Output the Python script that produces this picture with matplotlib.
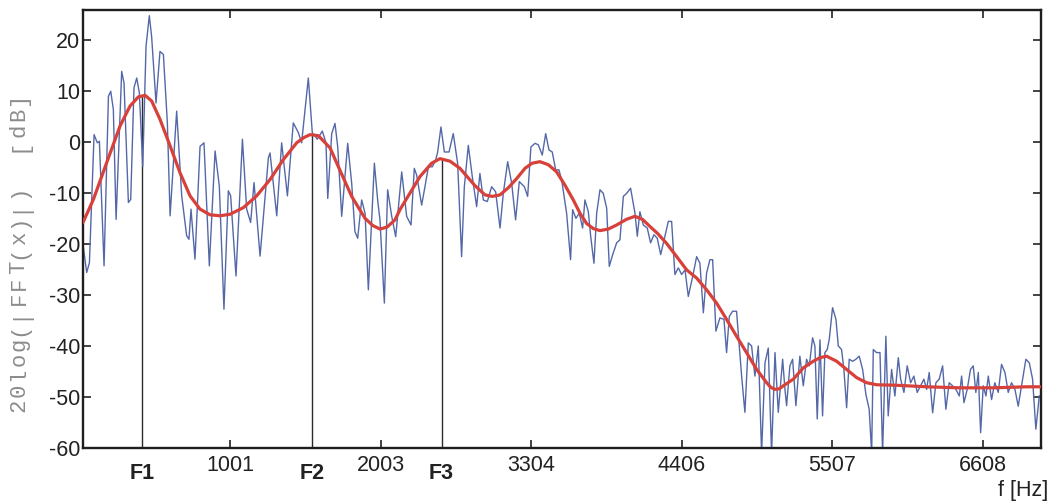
import numpy as np
import matplotlib.pyplot as plt

# spectrum (thin blue line)
spec_hz = [24, 53, 73, 107, 131, 146, 180, 212, 229, 248, 268, 309, 326, 358, 375, 399, 419, 438,
           463, 487, 511, 528, 560, 589, 614, 643, 663, 711, 748, 784, 801, 816, 845, 882, 911, 950,
           992, 1023, 1057, 1089, 1106, 1145, 1192, 1223, 1252, 1277, 1321, 1382, 1394, 1443, 1479,
           1521, 1564, 1601, 1625, 1650, 1674, 1703, 1740, 1776, 1803, 1816,
           1845, 1869, 1889, 1918, 1962, 1991, 2015, 2035, 2064, 2089, 2113, 2157, 2181, 2198, 2230,
           2254, 2284, 2313, 2357, 2393, 2425, 2449, 2466, 2503, 2527, 2552, 2581, 2605, 2620, 2644,
           2669, 2703, 2734, 2766, 2795, 2815, 2844, 2873, 2905, 2929, 2954, 2983, 3015, 3044, 3076,
           3100, 3132, 3161, 3190, 3217, 3254, 3278, 3302, 3332, 3356, 3385, 3410, 3434, 3458, 3483,
           3507, 3527, 3563, 3592,
           3607, 3631, 3656, 3680, 3697, 3722, 3739, 3763, 3783, 3807, 3831, 3856, 3875, 3900, 3929,
           3953, 3978, 4002, 4031, 4063, 4080, 4099, 4124, 4153, 4177, 4202, 4226, 4251, 4282, 4307,
           4331, 4355, 4380, 4404, 4429, 4453, 4485, 4514, 4538, 4563, 4587, 4611, 4631, 4655, 4684,
           4714, 4733, 4753, 4777, 4806, 4826, 4843, 4867, 4892, 4916, 4940, 4965, 4989, 5014, 5038,
           5062, 5087, 5111, 5143, 5160, 5172, 5196, 5216, 5240, 5269, 5294, 5318, 5338, 5362, 5379,
           5396, 5416,
           5435, 5452, 5469, 5484, 5508, 5533, 5550, 5574, 5591, 5611, 5630, 5655, 5679, 5703, 5728,
           5752, 5776, 5794, 5806, 5830, 5855, 5874, 5898, 5915, 5940, 5964, 5989, 6006, 6030, 6054,
           6079, 6103, 6127, 6152, 6176, 6196, 6215, 6240, 6264, 6288, 6313, 6337, 6361, 6386, 6410,
           6435, 6452, 6469, 6493, 6517, 6537, 6556, 6574, 6591, 6610, 6630, 6647, 6671, 6695, 6720,
           6744, 6769, 6793, 6817, 6842, 6866, 6890, 6922, 6947, 6971, 6995, 7020]
spec_db = [-19.7, -25.6, -23.7, 1.4, -0.2, 0.1, -24.3, 8.9, 9.9, 6.3, -15.2, 13.8, 11.5, -11.9, -11.3,
           10.6, 12.5, 9.6, -4.8, 18.7, 24.7, 20.6, 7.6, 17.7, 17.1, 3.7, -14.5, 6.0, -10.6, -18.4,
           -19.1, -13.2, -23.0, -0.9, -0.2, -24.3, -1.8, -8.7, -32.8, -9.6, -10.6, -26.3, 0.5, -13.2,
           -15.8, -8.0, -22.4, -3.1, -2.2, -14.5, -0.2, -10.6, 3.7, 1.8, -0.2, 6.3, 12.5, 1.8, 0.5,
           2.1, -0.2, -11.1,
           1.6, 3.6, -1.0, -14.6, -0.3, -8.1, -17.6, -18.9, -11.4, -14.0, -29.0, -4.2, -11.4, -15.3,
           -31.6, -9.4, -14.6, -18.6, -5.9, -14.6, -16.3, -5.2, -6.5, -12.4, -8.8, -4.9, -4.9, -3.6,
           -2.0, 2.9, -2.0, -2.0, 1.6, -4.2, -22.5, -8.8, -0.7, -6.8, -12.7, -6.2, -11.4, -11.7, -8.8,
           -9.8, -16.9, -10.1, -3.9, -8.1, -15.3, -7.8, -8.8, -10.7, -1.0, -0.3, -0.6, -2.6, 1.6,
           -1.6, -2.0, -5.5, -5.5, -7.5, -14.0, -23.1,
           -13.3, -15.0, -14.0, -16.9, -11.4, -13.7, -18.5, -23.8, -14.0, -9.4, -10.1, -13.0, -24.4,
           -22.1, -19.8, -19.2, -10.7, -10.1, -9.1, -14.0, -18.5, -13.7, -16.3, -16.9, -19.8, -18.2,
           -18.9, -22.1, -18.5, -15.6, -15.6, -26.0, -24.7, -26.0, -25.1, -30.3, -26.4, -22.5, -23.8,
           -33.5, -25.7, -23.1, -23.1, -37.1, -34.5, -34.8, -41.3, -34.2, -33.2, -33.2, -40.0, -45.9,
           -53.0, -39.4, -40.0, -45.9, -40.0, -61.0, -43.3, -40.4, -61.0, -41.3, -53.0, -42.6, -48.5,
           -51.7, -43.9, -42.6, -51.7, -42.0, -47.8, -42.6, -43.9, -38.4, -40.0, -54.3, -38.8,
           -53.7, -41.3, -40.7, -38.7, -32.5, -34.8, -40.0, -40.7, -44.6, -52.1, -42.6, -43.0, -42.6,
           -42.0, -44.6, -49.5, -52.4, -61.0, -40.7, -41.3, -41.3, -61.0, -38.1, -53.7, -44.6, -49.8,
           -42.3, -46.5, -49.1, -43.9, -47.2, -45.9, -49.1, -47.8, -46.5, -48.5, -45.2, -53.1, -47.2,
           -46.5, -43.9, -52.4, -47.2, -47.8, -48.5, -49.8, -45.9, -51.1, -48.5, -44.6, -43.9, -49.1,
           -45.2, -57.0, -47.8, -49.8, -45.9, -50.5, -47.2, -49.1, -43.6, -45.2, -49.1, -47.2, -48.5,
           -51.8, -47.8, -42.6, -43.3, -46.5, -56.3, -49.8]

# smoothed envelope (red line)
env_hz = [26, 102, 199, 297, 370, 431, 480, 528, 589, 663, 736, 809, 882, 955, 1028, 1101, 1199,
          1296, 1394, 1491, 1589, 1640, 1686, 1747, 1833, 1894, 1991, 2089, 2145, 2198, 2250, 2308,
          2344, 2405, 2491, 2576, 2637, 2710, 2783, 2893, 2966, 3020, 3076, 3137, 3198, 3259, 3310,
          3368, 3430, 3490, 3551, 3612, 3661, 3709, 3758, 3807, 3868, 3929, 4000, 4063, 4118, 4173,
          4230, 4294, 4368, 4441, 4514, 4587, 4660, 4733, 4806, 4879, 4953, 5026, 5056, 5087, 5118,
          5148, 5221, 5294, 5367, 5416, 5464, 5538, 5611, 5684, 5757, 5830, 5976, 6196, 6439, 6683,
          6927, 7032]
env_db = [-15.8, -11.3, -4.1, 3.1, 7.0, 8.8, 9.1, 8.0, 4.4, -0.8, -6.1, -10.6, -13.2, -14.3, -14.5,
          -14.2, -12.9, -10.6, -7.4, -3.5, -0.2, 0.8, 1.4, 1.2, -1.2, -4.9, -10.7, -15.0, -16.4,
          -17.1, -16.7, -15.3, -13.3, -10.6, -6.8, -4.2, -3.3, -3.8, -5.2, -8.6, -10.4, -10.7, -10.4,
          -9.0, -7.2, -5.2, -4.2, -3.9, -4.5, -5.9, -8.5, -11.4, -14.0, -16.0, -17.0, -17.4, -17.1,
          -16.3, -15.2, -14.6, -15.2, -16.6, -18.0, -19.9, -22.5, -25.1, -26.7, -29.0, -31.6, -34.8,
          -38.1, -41.3, -44.6, -47.2, -48.1, -48.5, -48.4, -47.8, -46.5, -44.3, -43.0, -42.3, -42.0,
          -43.0, -44.6, -46.2, -47.2, -47.6, -47.7, -48.0, -48.2, -48.2, -48.0, -48.0]

formant_names = ["F1", "F2", "F3"]
formant_hz = [456, 1701, 2648]
formant_db = [9.1, 1.4, -3.3]

tick_hz = [1101.3, 2202.6, 3303.9, 4405.2, 5506.5, 6607.8]
tick_labels = ["1001", "2003", "3304", "4406", "5507", "6608"]
ytick_vals = [20, 10, 0, -10, -20, -30, -40, -50, -60]

ylabel = "20log(|FFT(x)|)  [dB]"

plt.rcParams["font.family"] = ["Liberation Sans", "DejaVu Sans"]

W, H = 1060, 504
fig = plt.figure(figsize=(W / 100, H / 100), dpi=100)
ax = fig.add_axes([0.0783, 0.111, 0.9037, 0.869])

ax.vlines(formant_hz, -60, formant_db, color="#2b2b2b", lw=1.0, zorder=1)
ax.plot(spec_hz, spec_db, color="#5468a8", lw=1.0, zorder=2)
ax.plot(env_hz, env_db, color="#d8403a", lw=2.3, zorder=3,
        solid_capstyle="round", solid_joinstyle="round")

ax.set_xlim(26, 7032)
ax.set_ylim(-60, 25.8)
ax.set_xticks(tick_hz)
ax.set_xticklabels(tick_labels)
ax.set_yticks(ytick_vals)
ax.set_yticklabels([str(v) for v in ytick_vals])
ax.tick_params(direction="in", length=6, width=1.2, labelsize=15.5, colors="#222222",
               top=True, right=True)
ax.tick_params(axis="x", pad=5)
ax.tick_params(axis="y", pad=2)
for s in ax.spines.values():
    s.set_linewidth(1.7)
    s.set_color("#1e1e1e")

for name, f in zip(formant_names, formant_hz):
    ax.annotate(name, xy=(f, 0), xycoords=("data", "axes fraction"), xytext=(0, -11),
                textcoords="offset points", ha="center", va="top", fontsize=15.5,
                fontweight="bold", color="#222222")

fig.text(0.989, 0.026, "f [Hz]", ha="right", va="center", fontsize=15.5, color="#222222")

# y label: wide-spaced monospace, one character at a time from the bottom up
step = 15.3
y0 = 413 - step / 2
for i, ch in enumerate(ylabel):
    if ch == " ":
        continue
    fig.text(19 / W, 1 - (y0 - i * step) / H, ch, rotation=90, ha="center", va="center",
             fontsize=16, color="#8c8c8c", family="Liberation Mono")

fig.savefig("out.png", dpi=100, facecolor="white")
